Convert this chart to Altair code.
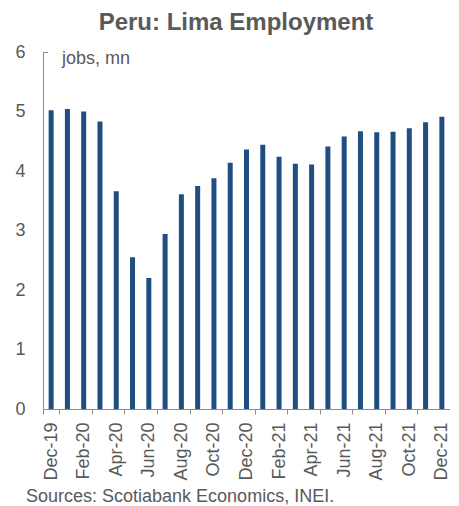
import altair as alt
import pandas as pd

months = ["Dec-19", "Jan-20", "Feb-20", "Mar-20", "Apr-20", "May-20", "Jun-20",
          "Jul-20", "Aug-20", "Sep-20", "Oct-20", "Nov-20", "Dec-20", "Jan-21",
          "Feb-21", "Mar-21", "Apr-21", "May-21", "Jun-21", "Jul-21", "Aug-21",
          "Sep-21", "Oct-21", "Nov-21", "Dec-21"]
jobs = [5.02, 5.04, 5.00, 4.83, 3.66, 2.55, 2.20, 2.94, 3.61, 3.75, 3.88, 4.14,
        4.36, 4.44, 4.24, 4.12, 4.11, 4.41, 4.58, 4.67, 4.65, 4.66, 4.72, 4.82, 4.91]
label_months = months[::2]
y_ticks = [0, 1, 2, 3, 4, 5, 6]

title_text = "Peru: Lima Employment"
unit_text = "jobs, mn"
source_text = "Sources: Scotiabank Economics, INEI."

FONT = "Liberation Sans"
GRAY = "#595959"
AXIS = "#8c8c8c"
W, H = 407, 357

df = pd.DataFrame({"month": months, "jobs": jobs})

bars = alt.Chart(df).mark_bar(color="#1F4E80", size=5).encode(
    x=alt.X("month:N", sort=months,
            scale=alt.Scale(paddingInner=0, paddingOuter=0),
            axis=alt.Axis(title=None, values=label_months, labelAngle=-90,
                          tickBand="extent", tickSize=5, tickColor=AXIS,
                          domainColor=AXIS, labelPadding=8, labelFont=FONT,
                          labelFontSize=18, labelColor=GRAY, grid=False)),
    y=alt.Y("jobs:Q", scale=alt.Scale(domain=[0, 6], nice=False),
            axis=alt.Axis(title=None, values=y_ticks, ticks=False, tickSize=0,
                          labelPadding=18, domainColor=AXIS, labelFont=FONT,
                          labelFontSize=18, labelColor=GRAY, grid=False)),
)

top_tick = alt.Chart(pd.DataFrame({"v": [6]})).mark_rule(color=AXIS, strokeWidth=1).encode(
    x=alt.value(0), x2=alt.value(5), y=alt.value(0.5)
)

def text_layer(txt, x, y, size, bold=False, align="left"):
    return alt.Chart(pd.DataFrame({"t": [txt]})).mark_text(
        font=FONT, fontSize=size, fontWeight="bold" if bold else "normal",
        color=GRAY, align=align, baseline="alphabetic"
    ).encode(text="t:N", x=alt.value(x), y=alt.value(y))

title = text_layer(title_text, 193, -22, 24, bold=True, align="center")
unit = text_layer(unit_text, 19, 12, 18)
source = text_layer(source_text, -17, 450, 18)

chart = alt.layer(bars, top_tick, title, unit, source).properties(
    width=W, height=H,
    autosize=alt.AutoSizeParams(type="none"),
    padding={"left": 35, "top": 44, "right": 0, "bottom": 97},
).configure_view(stroke=None)

chart.save("out.html", embed_options={"renderer": "svg", "actions": False})
